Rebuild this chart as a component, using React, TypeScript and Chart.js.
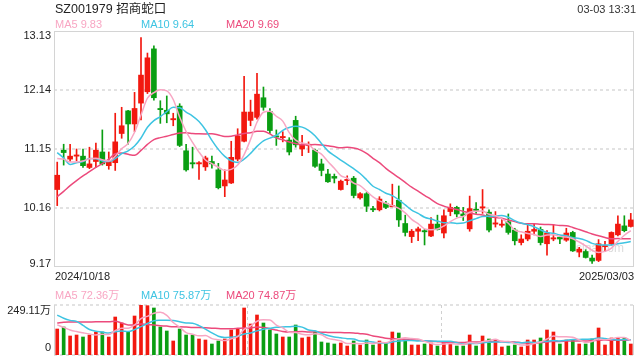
import React, { useEffect, useRef } from "react";
import { Chart, registerables } from "chart.js";

Chart.register(...registerables);

const stockTitle = "SZ001979 招商蛇口";
const timeStamp = "03-03 13:31";
const startDate = "2024/10/18";
const endDate = "2025/03/03";

const opens = [
  10.47, 11.13, 10.98, 11.03, 11.03, 10.84, 10.94, 11.1, 10.87, 10.92,
  11.41, 11.79, 11.57, 11.92, 12.11, 12.83, 11.83, 11.8, 11.64, 11.87,
  11.12, 10.92, 10.9, 10.85, 10.94, 10.8, 10.53, 10.58, 10.98, 11.28,
  11.63, 11.68, 12.01, 11.78, 11.37, 11.34, 11.3, 11.63, 11.15, 11.21,
  11.13, 10.9, 10.73, 10.69, 10.47, 10.62, 10.66, 10.33, 10.4, 10.15,
  10.13, 10.24, 10.18, 10.29, 9.9, 9.68, 9.77, 9.78, 9.69, 9.89,
  9.74, 10.1, 10.17, 10.06, 9.81, 10.13, 10.16, 10.09, 9.89, 9.87,
  9.93, 9.79, 9.58, 9.64, 9.77, 9.8, 9.56, 9.64, 9.67, 9.62,
  9.75, 9.42, 9.43, 9.32, 9.28, 9.51, 9.56, 9.71, 9.86, 9.85,
];
const closes = [
  10.71, 11.09, 11.03, 11.05, 10.87, 10.9, 11.13, 10.9, 10.94, 11.27,
  11.54, 11.57, 11.83, 12.39, 12.68, 12.01, 11.81, 11.74, 11.66, 11.21,
  10.8, 10.9, 10.92, 11.0, 10.9, 10.5, 10.63, 11.01, 11.37, 11.77,
  11.77, 12.07, 11.85, 11.46, 11.35, 11.36, 11.1, 11.22, 11.22, 11.23,
  10.86, 10.79, 10.6, 10.66, 10.61, 10.64, 10.37, 10.4, 10.19, 10.13,
  10.31, 10.17, 10.2, 9.96, 9.75, 9.77, 9.81, 9.76, 9.89, 9.8,
  10.03, 10.17, 10.06, 10.03, 10.15, 10.12, 10.18, 9.79, 9.91, 9.89,
  9.75, 9.61, 9.64, 9.77, 9.8, 9.58, 9.74, 9.66, 9.64, 9.74,
  9.44, 9.47, 9.33, 9.27, 9.56, 9.53, 9.75, 9.89, 9.78, 9.96,
];
const highs = [
  10.93, 11.23, 11.23, 11.15, 11.15, 11.18, 11.25, 11.47, 11.1, 11.75,
  11.85, 11.8, 12.1, 13.02, 12.76, 12.88, 11.96, 12.04, 11.75, 11.91,
  11.23, 11.18, 10.94, 11.03, 11.03, 10.91, 10.8, 11.28, 11.49, 12.37,
  11.97, 12.42, 12.19, 11.83, 11.47, 11.44, 11.34, 11.7, 11.38, 11.27,
  11.15, 10.98, 10.81, 10.73, 10.63, 10.7, 10.69, 10.42, 10.42, 10.19,
  10.35, 10.27, 10.56, 10.53, 10.04, 9.8, 9.84, 9.8, 10.0, 10.04,
  10.13, 10.23, 10.19, 10.17, 10.36, 10.25, 10.47, 10.13, 10.1, 9.97,
  10.06, 9.82, 9.71, 9.89, 9.9, 9.84, 9.78, 9.88, 9.68, 9.82,
  9.77, 9.5, 9.46, 9.37, 9.63, 9.6, 9.76, 10.03, 10.03, 10.07,
];
const lows = [
  10.2, 10.88, 10.94, 10.95, 10.84, 10.82, 10.84, 10.88, 10.81, 10.79,
  11.33, 11.23, 11.44, 11.64, 12.08, 11.97, 11.58, 11.59, 11.54, 11.19,
  10.78, 10.83, 10.64, 10.79, 10.83, 10.48, 10.35, 10.57, 10.95, 11.27,
  11.54, 11.65, 11.8, 11.41, 11.21, 11.27, 11.05, 11.18, 11.04, 11.09,
  10.84, 10.7, 10.59, 10.58, 10.46, 10.55, 10.33, 10.31, 10.1, 10.1,
  10.11, 10.15, 10.18, 9.85, 9.69, 9.58, 9.61, 9.54, 9.68, 9.79,
  9.66, 10.03, 10.01, 9.95, 9.77, 10.07, 10.07, 9.76, 9.84, 9.84,
  9.72, 9.54, 9.54, 9.61, 9.71, 9.54, 9.37, 9.61, 9.56, 9.6,
  9.43, 9.34, 9.32, 9.23, 9.26, 9.43, 9.54, 9.69, 9.76, 9.84,
];
// volume in 万
const volumes = [
  129.5, 139.5, 94.7, 99.6, 89.7, 99.6, 114.6, 114.6, 89.7, 189.3,
  159.4, 114.6, 194.3, 249.11, 245.8, 234.2, 139.5, 119.6, 69.8, 129.5,
  99.6, 99.6, 79.7, 74.7, 54.8, 69.8, 79.7, 124.6, 129.5, 234.2,
  154.4, 199.3, 159.4, 124.6, 104.6, 89.7, 89.7, 149.5, 84.7, 89.7,
  114.6, 64.8, 59.8, 54.8, 59.8, 44.8, 69.8, 49.8, 74.7, 49.8,
  69.8, 59.8, 114.6, 109.6, 74.7, 49.8, 49.8, 54.8, 59.8, 44.8,
  64.8, 59.8, 44.8, 44.8, 99.6, 44.8, 94.7, 79.7, 74.7, 39.9,
  44.8, 49.8, 39.9, 74.7, 74.7, 84.7, 124.6, 114.6, 54.8, 74.7,
  74.7, 54.8, 54.8, 79.7, 134.5, 49.8, 84.7, 84.7, 84.7, 54.8,
];
// sessions before the visible window (estimated from where the MA lines start)
const priorCloses = [
  9.3, 9.1, 9.35, 9.3, 9.5, 9.65, 9.7, 9.4, 9.47, 11.32,
  11.99, 12.13, 10.75, 10.67, 10.41, 11.14, 11.28, 11.05, 10.77,
];
const priorVolumes = [
  80, 75, 90, 85, 95, 110, 100, 90, 135, 350,
  300, 200, 150, 290, 300, 200, 160, 140, 120.5,
];

const priceTicks = [9.17, 10.16, 11.15, 12.14, 13.13];
const volumeTicks = [0, 249.11];
const volumeTickLabels = ["0", "249.11万"];
const priceMaLegend = ["MA5 9.83", "MA10 9.64", "MA20 9.69"];
const volumeMaLegend = ["MA5 72.36万", "MA10 75.87万", "MA20 74.87万"];
const maPeriods = [5, 10, 20];

const RED = "#f2180f";
const GREEN = "#0a9e12";
const MA_COLORS = ["#f8a6c3", "#3ec4e2", "#ec4a7c"];
const FONT = '"Liberation Sans", Arial, "Noto Sans CJK SC", sans-serif';
const LEGEND_X = [55, 141, 226];

function movingAverage(series: number[], prior: number[], n: number): number[] {
  const all = prior.concat(series);
  const off = prior.length;
  return series.map((_, i) => {
    const end = off + i + 1;
    const start = Math.max(0, end - n);
    let s = 0;
    for (let k = start; k < end; k++) s += all[k];
    return s / (end - start);
  });
}

const labels = closes.map((_, i) => String(i));
const candleColors = closes.map((c, i) => (c >= opens[i] ? RED : GREEN));

function framePlugin(opts: {
  id: string;
  ticks: number[];
  tickLabels: string[];
  topOffset: number;
  bottomOffset: number;
  volume: boolean;
  dates: boolean;
}) {
  return {
    id: opts.id,
    beforeDatasetsDraw(chart: any) {
      const { ctx, chartArea } = chart;
      const { left, right, top, bottom } = chartArea;
      const y = chart.scales.y;
      ctx.save();
      // dotted grid
      ctx.strokeStyle = "#e2e2e2";
      ctx.lineWidth = 2;
      ctx.setLineDash([3, 3]);
      const gridVals = opts.volume ? opts.ticks : opts.ticks.slice(1, -1);
      gridVals.forEach((v) => {
        const py = Math.round(y.getPixelForValue(v));
        ctx.beginPath();
        ctx.moveTo(left, py);
        ctx.lineTo(right, py);
        ctx.stroke();
      });
      if (opts.volume) {
        ctx.lineWidth = 1;
        ctx.strokeStyle = "#d0d0d0";
        [1 / 3, 2 / 3].forEach((f) => {
          const px = Math.round(left + (right - left) * f) + 0.5;
          ctx.beginPath();
          ctx.moveTo(px, top);
          ctx.lineTo(px, bottom);
          ctx.stroke();
        });
      }
      ctx.setLineDash([]);
      ctx.strokeStyle = "#d4d4d4";
      ctx.lineWidth = 1;
      if (opts.volume) {
        ctx.beginPath();
        ctx.moveTo(left + 0.5, top);
        ctx.lineTo(left + 0.5, bottom);
        ctx.moveTo(right - 0.5, top);
        ctx.lineTo(right - 0.5, bottom);
        ctx.stroke();
      } else {
        ctx.strokeRect(left + 0.5, top + 0.5, right - left - 1, bottom - top - 1);
        // watermark
        ctx.fillStyle = "rgba(150,150,150,0.35)";
        ctx.font = `12px ${FONT}`;
        ctx.textAlign = "right";
        ctx.textBaseline = "middle";
        ctx.fillText("sina.com", right - 10, bottom - 18);
      }
      ctx.restore();
    },
    afterDraw(chart: any) {
      const { ctx, chartArea } = chart;
      const y = chart.scales.y;
      ctx.save();
      ctx.fillStyle = "#222";
      ctx.font = `11px ${FONT}`;
      ctx.textAlign = "right";
      ctx.textBaseline = "middle";
      const n = opts.ticks.length;
      opts.ticks.forEach((v, i) => {
        let py = y.getPixelForValue(v);
        if (i === 0) py -= opts.bottomOffset;
        if (i === n - 1) py += opts.topOffset;
        ctx.fillText(opts.tickLabels[i], chartArea.left - 3, py);
      });
      if (opts.dates) {
        const x = chart.scales.x;
        const ty = chartArea.bottom + 9.5;
        ctx.textAlign = "left";
        ctx.fillText(startDate, chartArea.left + 1, ty);
        ctx.textAlign = "right";
        ctx.fillText(endDate, chartArea.right, ty);
        void x;
      }
      ctx.restore();
    },
  };
}

export default function App() {
  const mainRef = useRef<HTMLCanvasElement>(null);
  const volRef = useRef<HTMLCanvasElement>(null);

  useEffect(() => {
    const priceMAs = maPeriods.map((p) => movingAverage(closes, priorCloses, p));
    const volMAs = maPeriods.map((p) => movingAverage(volumes, priorVolumes, p));

    const lineDs = (data: number[], i: number) => ({
      type: "line" as const,
      label: "MA" + maPeriods[i],
      data,
      borderColor: MA_COLORS[i],
      borderWidth: 1.5,
      pointRadius: 0,
      cubicInterpolationMode: "monotone" as const,
      order: 0,
    });

    const main = new Chart(mainRef.current!, {
      type: "bar",
      data: {
        labels,
        datasets: [
          ...priceMAs.map((d, i) => lineDs(d, i)),
          {
            type: "bar",
            label: "body",
            data: opens.map((o, i) => [o, closes[i]]) as any,
            backgroundColor: candleColors,
            barThickness: 5,
            grouped: false,
            minBarLength: 1.2,
            order: 1,
          },
          {
            type: "bar",
            label: "wick",
            data: lows.map((l, i) => [l, highs[i]]) as any,
            backgroundColor: candleColors,
            barThickness: 1,
            grouped: false,
            order: 2,
          },
        ] as any,
      },
      options: {
        animation: false,
        responsive: false,
        events: [],
        layout: { padding: { left: 54, right: 6, top: 31, bottom: 13 } },
        plugins: { legend: { display: false }, tooltip: { enabled: false } },
        scales: {
          x: { type: "category", display: false, offset: true },
          y: { display: false, min: priceTicks[0], max: priceTicks[priceTicks.length - 1] },
        },
      },
      plugins: [
        framePlugin({
          id: "mainFrame",
          ticks: priceTicks,
          tickLabels: priceTicks.map((t) => t.toFixed(2)),
          topOffset: 4.5,
          bottomOffset: 3,
          volume: false,
          dates: true,
        }),
      ],
    });

    const vol = new Chart(volRef.current!, {
      type: "bar",
      data: {
        labels,
        datasets: [
          ...volMAs.map((d, i) => lineDs(d, i)),
          {
            type: "bar",
            label: "volume",
            data: volumes,
            backgroundColor: candleColors,
            barThickness: 3,
            grouped: false,
            order: 1,
          },
        ] as any,
      },
      options: {
        animation: false,
        responsive: false,
        events: [],
        layout: { padding: { left: 54, right: 6, top: 25, bottom: 5 } },
        plugins: { legend: { display: false }, tooltip: { enabled: false } },
        scales: {
          x: { type: "category", display: false, offset: true },
          y: { display: false, min: volumeTicks[0], max: volumeTicks[1] },
        },
      },
      plugins: [
        framePlugin({
          id: "volFrame",
          ticks: volumeTicks,
          tickLabels: volumeTickLabels,
          topOffset: 6,
          bottomOffset: 7,
          volume: true,
          dates: false,
        }),
      ],
    });

    return () => {
      main.destroy();
      vol.destroy();
    };
  }, []);

  const legendRow = (items: string[], top: number) =>
    items.map((t, i) => (
      <div
        key={t}
        style={{
          position: "absolute",
          left: LEGEND_X[i],
          top,
          fontSize: 11,
          lineHeight: "11px",
          color: MA_COLORS[i],
          whiteSpace: "nowrap",
        }}
      >
        {t}
      </div>
    ));

  return (
    <div
      style={{
        position: "fixed",
        left: 0,
        top: 0,
        width: 640,
        height: 360,
        background: "#fff",
        fontFamily: FONT,
        overflow: "hidden",
      }}
    >
      <canvas ref={mainRef} width={640} height={280} style={{ position: "absolute", left: 0, top: 0 }} />
      <canvas ref={volRef} width={640} height={80} style={{ position: "absolute", left: 0, top: 280 }} />
      <div
        style={{
          position: "absolute",
          left: 55,
          top: 2.5,
          fontSize: 12.5,
          lineHeight: "13px",
          color: "#222",
          whiteSpace: "nowrap",
        }}
      >
        {stockTitle}
      </div>
      <div
        style={{
          position: "absolute",
          right: 4,
          top: 3.5,
          fontSize: 11,
          lineHeight: "11px",
          color: "#333",
          whiteSpace: "nowrap",
        }}
      >
        {timeStamp}
      </div>
      {legendRow(priceMaLegend, 18.5)}
      {legendRow(volumeMaLegend, 289.5)}
    </div>
  );
}
